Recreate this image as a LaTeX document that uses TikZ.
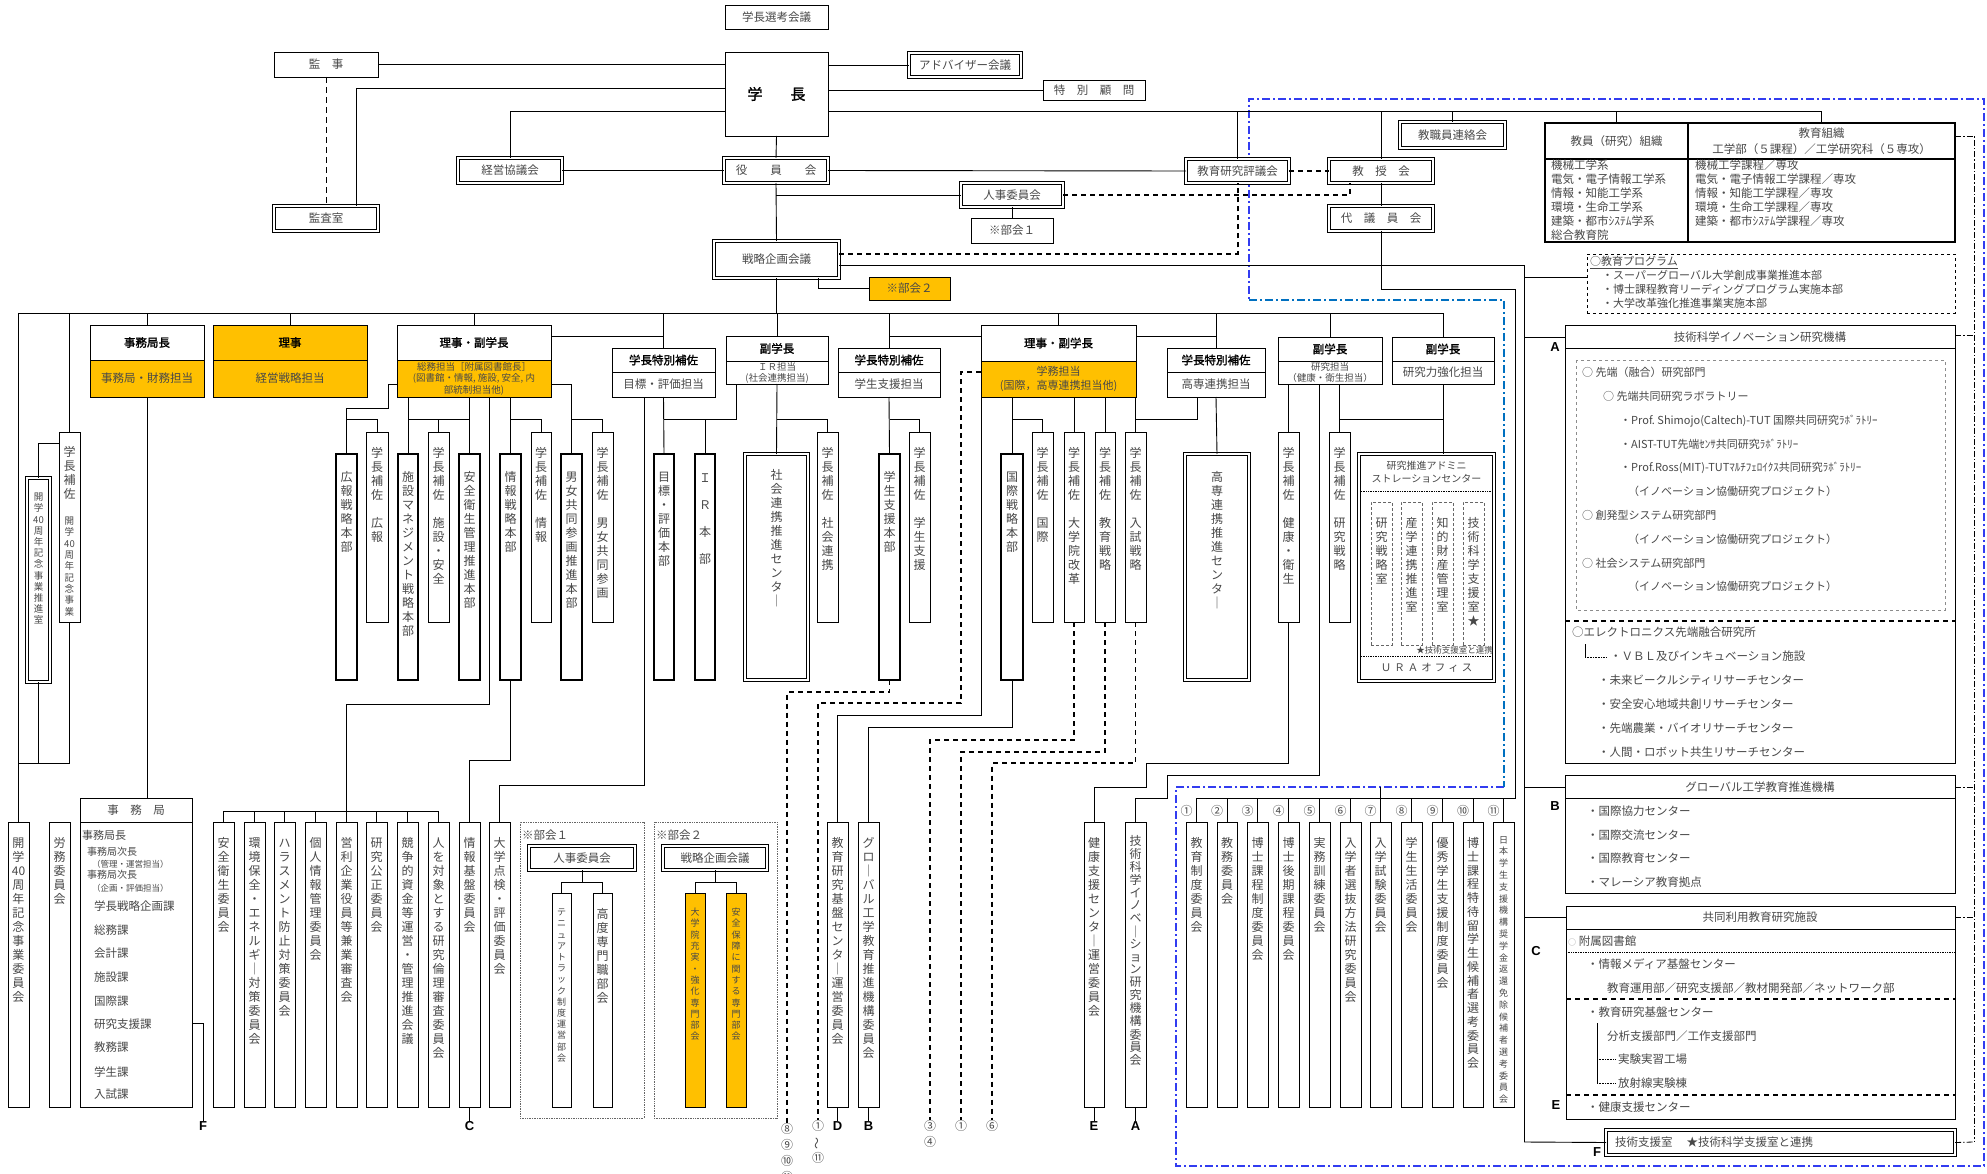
\documentclass[tikz,border=0pt]{standalone}
\usepackage{fontspec}
\setmainfont{Noto Sans CJK JP}
\newfontfamily\jpb{Noto Sans CJK JP}[FakeBold=1.6]
\newfontfamily\labf{Liberation Sans}
\usepackage{graphicx}
\definecolor{orng}{RGB}{255,192,0}
\definecolor{bluA}{RGB}{50,60,240}
\definecolor{bluB}{RGB}{0,112,192}
\definecolor{txt}{RGB}{72,72,72}
\pgfdeclarelayer{bg}
\pgfsetlayers{bg,main}
\makeatletter
\newdimen\vt@h \newdimen\vt@d
\newcommand\vtext[2][14]{\vt@h=\dimexpr#1pt*3/4\relax\vt@d=\dimexpr#1pt/4\relax\vbox{\offinterlineskip\vt@A#2\vt@End}}
\def\vt@End{\vt@End}
\def\vt@A#1{\ifx\vt@End#1\else\hbox to 20pt{\hss\vrule height\vt@h depth\vt@d width0pt\relax#1\hss}\expandafter\vt@A\fi}
\makeatother
\newcommand\vf{\fontsize{12}{14}\selectfont}
\newcommand\vs{\fontsize{9.5}{11}\selectfont}
\newcommand\vxs{\fontsize{9}{11}\selectfont}
\newcommand\hf{\jpb\fontsize{11.5}{13}\selectfont\color{black}}
\newcommand\bx[7][bx]{\pgfmathsetmacro\bw{#5-#3}\pgfmathsetmacro\bh{#6-#4}%
  \node[#1,minimum width=\bw pt,minimum height=\bh pt] (#2) at ({(#3+#5)/2},{(#4+#6)/2}) {#7};}
\newcommand\vbx[8][bx]{\bx[#1]{#2}{#3}{#4}{#5}{#6}{}%
  \node[anchor=north,inner sep=0pt,text=txt] (#2t) at ([yshift=-#7pt]#2.north) {#8};}
\begin{document}
\begin{tikzpicture}[x=1pt,y=-1pt,font=\fontsize{11.5}{14}\selectfont,
 bx/.style={draw,fill=white,line width=0.9pt,inner sep=0pt,outer sep=0pt,text=txt},
 dbx/.style={bx,double,double distance=1.8pt,line width=0.8pt},
 tbx/.style={bx,line width=2.5pt},
 ln/.style={line width=0.9pt},
 tdash/.style={line width=0.9pt,dash pattern=on 6pt off 4pt},
 kdash/.style={line width=2pt,dash pattern=on 5pt off 4pt},
 vdsh/.style={line width=1.8pt,dash pattern=on 5pt off 4pt},
 ddot/.style={line width=0.8pt,dash pattern=on 6pt off 2pt on 1.5pt off 2pt},
 blu/.style={line width=2.2pt,dash pattern=on 8pt off 3pt on 2pt off 3pt},
 grp/.style={draw=black!60,fill=white,densely dotted,line width=0.7pt,inner sep=0pt},
 lab/.style={font=\labf\bfseries\fontsize{13}{13}\selectfont,inner sep=0pt,anchor=north},
 cn/.style={font=\fontsize{12}{16}\selectfont,inner sep=0pt,align=center,anchor=north,text=txt},
 tx/.style={inner sep=0pt,text=txt}]
\useasboundingbox (0,0) rectangle (1987,1174);
\begin{pgfonlayer}{bg}
\fill[white] (0,0) rectangle (1987,1174);
\draw[blu,bluA] (1504,787) -- (1176,787) -- (1176,1166) -- (1984,1166) -- (1984,99) -- (1249,99) -- (1249,300);
\draw[blu,bluB] (1249,300) -- (1504,300) -- (1504,787);
\end{pgfonlayer}
\foreach \yy in {88,111,136,254,265,277,313,335,336,337,372,384,419,443,692,704,715,727,740,752,760,763,775,785,787,798,811,882,917,1023,1142}
  \coordinate (h\yy) at (0,\yy);
\coordinate (trunkT) at (1524,265);
\coordinate (trunkB) at (1524,1142);
\coordinate (busL) at (18.5,313);

% ---------- top ----------
\bx{senko}{725}{5}{828}{29}{学長選考会議}
\bx{kanji}{274}{52}{378}{77}{監　事}
\bx{gakucho}{725}{52}{828}{136}{\jpb\fontsize{15}{17}\selectfont\color{black}学\hspace{28pt}長}
\bx[dbx]{adv}{909}{53}{1021}{77}{アドバイザー会議}
\bx{tokub}{1043}{80}{1145}{100}{特　別　顧　問}
\bx[dbx]{kansa}{274}{206}{378}{231}{監査室}
\bx[dbx]{keiei}{458}{158}{562}{183}{経営協議会}
\bx[dbx]{yakuin}{724}{158}{828}{183}{役　　員　　会}
\bx[dbx]{jinji}{961}{183}{1063}{207}{人事委員会}
\bx{bukai1}{971}{218}{1053}{243}{※部会１}
\bx[dbx]{senryaku}{714}{241}{839}{278}{戦略企画会議}
\bx[bx,fill=orng]{bukai2}{869}{277}{950}{300}{※部会２}
\bx[dbx]{kyoshoku}{1400}{122}{1505}{148}{教職員連絡会}
\bx[dbx]{hyogi}{1186}{159}{1289}{183}{教育研究評議会}
\bx[dbx]{kyoju}{1329}{159}{1433}{183}{教　授　会}
\bx[dbx]{daigi}{1329}{206}{1433}{231}{代　議　員　会}

% table
\bx[bx,line width=2pt]{tbl}{1545}{123}{1955}{242}{}
\draw[line width=2pt] (1688,123) -- (1688,242);
\draw[line width=2pt] (1545,159) -- (1955,159);
\node[tx] (th1) at (1616.5,141) {教員（研究）組織};
\node[tx] (th2) at (1821.5,133) {教育組織};
\node[tx] (th3) at (1821.5,149) {工学部（５課程）／工学研究科（５専攻）};
\node[tx,anchor=north west,align=left] (tl) at (1551,160) {機械工学系\\電気・電子情報工学系\\情報・知能工学系\\環境・生命工学系\\建築・都市ｼｽﾃﾑ学系\\総合教育院};
\node[tx,anchor=north west,align=left] (tr) at (1695,160) {機械工学課程／専攻\\電気・電子情報工学課程／専攻\\情報・知能工学課程／専攻\\環境・生命工学課程／専攻\\建築・都市ｼｽﾃﾑ学課程／専攻};

% education program
\bx[bx,dashed,line width=0.7pt]{kprog}{1587}{254}{1955}{313}{}
\node[tx,anchor=north west,align=left,font=\fontsize{11}{14}\selectfont] (kpt) at (1590,256) {\underline{○教育プログラム}\\\hspace*{12pt}・スーパーグローバル大学創成事業推進本部\\\hspace*{12pt}・博士課程教育リーディングプログラム実施本部\\\hspace*{12pt}・大学改革強化推進事業実施本部};

% top connectors
\draw[ln] (kanji.east) -- (kanji.east -| gakucho.west);
\draw[ln] (gakucho.east |- adv.west) -- (adv.west);
\draw[ln] (gakucho.east |- tokub.west) -- (tokub.west);
\draw[tdash] (kanji.south) -- (kanji.south |- kansa.north);
\draw[ln] (gakucho.west |- h88) -| ([xshift=-22pt]kansa.north east);
\draw[ln] (gakucho.west |- h111) -| (keiei.north);
\draw[ln] (gakucho.south) -- (yakuin.north);
\draw[ln] (keiei.east) -- (yakuin.west);
\draw[ln] (yakuin.east) -- (hyogi.west);
\draw[ln] (yakuin.south) -- (senryaku.north);
\draw[ln] (yakuin.south |- jinji.west) -- (jinji.west);
\draw[ln] (jinji.south) -- (bukai1.north);
\draw[ln] (gakucho.east |- h111) -- (1821,111) -- ([xshift=-134pt]tbl.north east);
\draw[ln] ([xshift=71pt]tbl.north west) -- ++(0,-12);
\draw[ln] (hyogi.north) -- (hyogi.north |- h111);
\draw[ln] (kyoju.north) -- (kyoju.north |- h111);
\draw[ln] (kyoshoku.north) -- (kyoshoku.north |- h111);
\draw[kdash] (hyogi.east) -- (kyoju.west);
\draw[ln] (kyoju.south) -- (daigi.north);
\draw[kdash] (jinji.east) -| ([xshift=-31pt]kyoju.south);
\draw[kdash] (senryaku.east |- h254) -| (hyogi.south);
\draw[ln] (senryaku.east |- h265) -- (trunkT) -- (trunkB);
\draw[ln] (trunkT |- h277) -- (kprog.west |- h277);
\draw[ln] ([xshift=41.5pt]senryaku.south) |- (bukai2.west);
\draw[ln] (senryaku.south) -- (senryaku.south |- h313);
\draw[ddot] (tbl.east |- h136) -- (1974,136) -- (1974,1142);

% ---------- second level ----------
\bx{jkcho}{90}{325}{204}{360}{\hf 事務局長}
\bx[bx,fill=orng]{jkchoB}{90}{360}{204}{397}{事務局・財務担当}
\bx[bx,fill=orng]{riji}{213}{325}{367}{360}{\hf 理事}
\bx[bx,fill=orng]{rijiB}{213}{360}{367}{397}{経営戦略担当}
\bx{rf1}{397}{325}{551}{360}{\hf 理事・副学長}
\bx[bx,fill=orng,align=center,font=\fontsize{9.5}{11.5}\selectfont]{rf1B}{397}{360}{551}{397}{総務担当［附属図書館長］\\(図書館・情報, 施設, 安全, 内\\部統制担当他)}
\bx{ts1}{612}{348}{715}{372}{\hf 学長特別補佐}
\bx{ts1B}{612}{372}{715}{397}{目標・評価担当}
\bx{fir}{726}{336}{828}{361}{\hf 副学長}
\bx[bx,align=center,font=\fontsize{9.5}{11}\selectfont]{firB}{726}{361}{828}{384}{ＩＲ担当\\(社会連携担当)}
\bx{ts2}{838}{348}{940}{372}{\hf 学長特別補佐}
\bx{ts2B}{838}{372}{940}{397}{学生支援担当}
\bx{rf2}{981}{325}{1136}{361}{\hf 理事・副学長}
\bx[bx,fill=orng,align=center,font=\fontsize{11}{14}\selectfont]{rf2B}{981}{361}{1136}{397}{学務担当\\(国際，高専連携担当他)}
\bx{ts3}{1167}{348}{1265}{372}{\hf 学長特別補佐}
\bx{ts3B}{1167}{372}{1265}{397}{高専連携担当}
\bx{fk}{1278}{337}{1382}{361}{\hf 副学長}
\bx[bx,align=center,font=\fontsize{9.5}{11}\selectfont]{fkB}{1278}{361}{1382}{384}{研究担当\\（健康・衛生担当）}
\bx{fk2}{1392}{337}{1494}{361}{\hf 副学長}
\bx{fk2B}{1392}{361}{1494}{384}{研究力強化担当}

\draw[ln] (busL) -- (fk2.north |- h313);
\foreach \n in {jkcho,riji,rf1,ts1,fir,ts2,rf2,ts3,fk,fk2} \draw[ln] (\n.north) -- (\n.north |- h313);
\draw[ln] (rf1.east |- h336) -- (ts1.north |- h336);
\draw[ln] (ts2.north |- h336) -- (rf2.west |- h336);
\draw[ln] (rf2.east |- h336) -- (ts3.north |- h336);

% ---------- left 40th ----------
\vbx{s40}{59}{432}{80}{622}{14}{\vbox{\hbox{\vf\vtext{学長補佐}}\vskip13pt\hbox{\vs\vtext[11.3]{開学{40}周年記念事業}}}}
\vbx[dbx]{suishin}{27}{478}{50}{682}{14}{\vs\vtext[11.2]{開学{40}周年記念事業推進室}}

% ---------- third level ----------
\vbx[tbx]{kohoH}{336}{454}{357}{680}{17}{\vf\vtext{広報戦略本部}}
\vbx{kohoS}{366}{432}{388}{622}{15}{\vf\vtext{学長補佐~広報}}
\vbx[tbx]{shisetsuH}{398}{454}{418}{680}{17}{\vf\vtext{施設マネジメント戦略本部}}
\vbx{shisetsuS}{428}{432}{449}{622}{15}{\vf\vtext{学長補佐~施設・安全}}
\vbx[tbx]{anzenH}{459}{454}{480}{680}{17}{\vf\vtext{安全衛生管理推進本部}}
\vbx[tbx]{johoH}{500}{454}{521}{680}{17}{\vf\vtext{情報戦略本部}}
\vbx{johoS}{531}{432}{551}{622}{15}{\vf\vtext{学長補佐~情報}}
\vbx[tbx]{danjoH}{561}{454}{582}{680}{17}{\vf\vtext{男女共同参画推進本部}}
\vbx{danjoS}{592}{432}{613}{622}{15}{\vf\vtext{学長補佐~男女共同参画}}
\vbx[tbx]{mokuhyoH}{654}{454}{674}{680}{17}{\vf\vtext{目標・評価本部}}
\vbx[tbx]{irH}{695}{454}{715}{680}{8}{\vf\vtext[27]{ＩＲ本部}}
\vbx[dbx]{shakaiC}{745}{454}{808}{680}{15}{\vf\vtext{社会連携推進センタ｜}}
\vbx{shakaiS}{817}{432}{838}{622}{15}{\vf\vtext{学長補佐~社会連携}}
\vbx[tbx]{gakuseiH}{879}{454}{900}{680}{17}{\vf\vtext{学生支援本部}}
\vbx{gakuseiS}{909}{432}{930}{622}{15}{\vf\vtext{学長補佐~学生支援}}
\vbx[tbx]{kokusaiH}{1001}{454}{1023}{680}{17}{\vf\vtext{国際戦略本部}}
\vbx{kokusaiS}{1032}{432}{1053}{622}{15}{\vf\vtext{学長補佐~国際}}
\vbx{daigakuinS}{1064}{432}{1084}{622}{15}{\vf\vtext{学長補佐~大学院改革}}
\vbx{kyoikuS}{1095}{432}{1115}{622}{15}{\vf\vtext{学長補佐~教育戦略}}
\vbx{nyushiS}{1125}{432}{1146}{622}{15}{\vf\vtext{学長補佐~入試戦略}}
\vbx[dbx]{kosenC}{1185}{454}{1249}{680}{17}{\vf\vtext{高専連携推進センタ｜}}
\vbx{kenkoS}{1278}{432}{1299}{622}{15}{\vf\vtext{学長補佐~健康・衛生}}
\vbx{kenkyuS}{1329}{432}{1350}{622}{15}{\vf\vtext{学長補佐~研究戦略}}
\bx[dbx]{uraC}{1359}{454}{1494}{681}{}
\node[tx,align=center,font=\fontsize{10}{13}\selectfont] (urat) at (1426.5,472) {研究推進アドミニ\\ストレーションセンター};
\draw[densely dotted,line width=0.7pt] (1361,491) -- (1492,491);
\draw[densely dotted,line width=0.7pt] (1361,656) -- (1492,656);
\vbx[bx,densely dashed,draw=black!60,line width=0.7pt]{ura1}{1371}{502}{1392}{645}{15}{\vf\vtext{研究戦略室}}
\vbx[bx,densely dashed,draw=black!60,line width=0.7pt]{ura2}{1401}{502}{1422}{645}{15}{\vf\vtext{産学連携推進室}}
\vbx[bx,densely dashed,draw=black!60,line width=0.7pt]{ura3}{1432}{502}{1453}{645}{15}{\vf\vtext{知的財産管理室}}
\vbx[bx,densely dashed,draw=black!60,line width=0.7pt]{ura4}{1463}{502}{1484}{645}{15}{\vf\vtext{技術科学支援室★}}
\node[tx,anchor=east,font=\fontsize{8.5}{10}\selectfont] (urast) at (1493,650.5) {★技術支援室と連携};
\node[tx,font=\fontsize{10.5}{12}\selectfont] (uraof) at (1426.5,668) {Ｕ\hspace{3pt}Ｒ\hspace{3pt}Ａ\hspace{3pt}オ\hspace{3pt}フ\hspace{3pt}ィ\hspace{3pt}ス};

% third-level connectors
\draw[ln] (s40.north |- h313) -- (s40.north);
\draw[ln] (s40.west |- h443) -| (suishin.north);
\draw[ln] (suishin.south) -- (suishin.south |- h763);
\draw[ln] (s40.south) -- (s40.south |- h763);
\draw[ln] (busL |- h763) -- (s40.south |- h763);
\draw[ln] (rf1B.west |- h384) -| (388,408) -| (kohoH.north);
\draw[ln] (kohoH.north |- h419) -| (kohoS.north);
\draw[ln] (shisetsuH.north |- rf1B.south) -- (shisetsuH.north);
\draw[ln] (shisetsuH.north |- h419) -| (shisetsuS.north);
\draw[ln] (shisetsuS.north |- h419) -- (anzenH.north |- h419);
\draw[ln] (anzenH.north |- rf1B.south) -- (anzenH.north);
\draw[ln] (johoH.north |- rf1B.south) -- (johoH.north);
\draw[ln] (johoH.north |- h419) -| (johoS.north);
\draw[ln] (rf1B.east |- h384) -| (danjoH.north);
\draw[ln] (danjoH.north |- h419) -| (danjoS.north);
\draw[ln] (ts1B.south) -- (mokuhyoH.north);
\draw[ln] (mokuhyoH.north |- h419) -| ([xshift=10pt]firB.south west);
\draw[ln] (irH.north |- h419) -- (irH.north);
\draw[ln] (firB.south) -- (shakaiC.north);
\draw[ln] (shakaiC.north |- h419) -| (shakaiS.north);
\draw[ln] (ts2B.south) -- (gakuseiH.north);
\draw[ln] (gakuseiH.north |- h419) -| (gakuseiS.north);
\draw[ln] (kokusaiH.north |- rf2B.south) -- (kokusaiH.north);
\draw[ln] (kokusaiH.north |- h419) -| (kokusaiS.north);
\draw[ln] (daigakuinS.north |- rf2B.south) -- (daigakuinS.north);
\draw[ln] (kyoikuS.north |- rf2B.south) -- (kyoikuS.north);
\draw[ln] (nyushiS.north |- rf2B.south) -- (nyushiS.north);
\draw[ln] (nyushiS.north |- h419) -| ([xshift=-19pt]ts3B.south);
\draw[ln] (ts3B.south) -- (kosenC.north);
\draw[ln] (kenkoS.north |- fkB.south) -- (kenkoS.north);
\draw[ln] (kenkyuS.north |- fkB.south) -- (kenkyuS.north);
\draw[ln] (kenkyuS.north |- h419) -- (fk2B.south |- h419);
\draw[ln] (fk2B.south) -- (fk2B.south |- uraC.north);

% ---------- bottom committees ----------
\vbx{kaigakuC}{8}{822}{29}{1107}{15}{\vf\vtext{開学{40}周年記念事業委員会}}
\vbx{romu}{49}{822}{70}{1107}{15}{\vf\vtext{労務委員会}}
\bx{jimu}{80}{798}{192}{822}{事　務　局}
\bx{jimuB}{80}{822}{192}{1107}{}
\node[tx,anchor=west,font=\fontsize{11}{13}\selectfont] (jm1) at (82,835) {事務局長};
\node[tx,anchor=west,font=\fontsize{10}{12}\selectfont] (jm2) at (87,852) {事務局次長};
\node[tx,anchor=west,font=\fontsize{8.5}{10}\selectfont] (jm3) at (92,864) {（管理・運営担当）};
\node[tx,anchor=west,font=\fontsize{10}{12}\selectfont] (jm4) at (87,875) {事務局次長};
\node[tx,anchor=west,font=\fontsize{8.5}{10}\selectfont] (jm5) at (92,888) {（企画・評価担当）};
\foreach \tx/\yy [count=\i] in {学長戦略企画課/906,総務課/930,会計課/953,施設課/977,国際課/1001,研究支援課/1024,教務課/1047,学生課/1072,入試課/1094}
  \node[tx,anchor=west] (jk\i) at (94,\yy) {\tx};
\vbx{c1}{213}{822}{234}{1107}{15}{\vf\vtext{安全衛生委員会}}
\vbx{c2}{244}{822}{265}{1107}{15}{\vf\vtext{環境保全・エネルギ｜対策委員会}}
\vbx{c3}{274}{822}{295}{1107}{15}{\vf\vtext{ハラスメント防止対策委員会}}
\vbx{c4}{305}{822}{326}{1107}{15}{\vf\vtext{個人情報管理委員会}}
\vbx{c5}{336}{822}{357}{1107}{15}{\vf\vtext{営利企業役員等兼業審査会}}
\vbx{c6}{366}{822}{387}{1107}{15}{\vf\vtext{研究公正委員会}}
\vbx{c7}{397}{822}{418}{1107}{15}{\vf\vtext{競争的資金等運営・管理推進会議}}
\vbx{c8}{428}{822}{449}{1107}{15}{\vf\vtext{人を対象とする研究倫理審査委員会}}
\vbx{johoKiban}{459}{822}{480}{1107}{15}{\vf\vtext{情報基盤委員会}}
\vbx{tenken}{489}{822}{510}{1107}{15}{\vf\vtext{大学点検・評価委員会}}

\bx[grp]{g1}{520}{822}{644}{1118}{}
\node[tx,anchor=west] (g1l) at (522,835) {※部会１};
\bx[dbx]{jinji2}{529}{846}{635}{870}{人事委員会}
\vbx{tenure}{552}{893}{571}{1107}{14}{\vxs\vtext[11.2]{テニュアトラック制度運営部会}}
\vbx{kodo}{593}{893}{612}{1107}{15}{\vf\vtext{高度専門職部会}}
\bx[grp]{g2}{654}{822}{777}{1118}{}
\node[tx,anchor=west] (g2l) at (656,835) {※部会２};
\bx[dbx]{senryaku2}{663}{846}{767}{870}{戦略企画会議}
\vbx[bx,fill=orng]{daigakuinJ}{685}{893}{705}{1107}{14}{\vxs\vtext[11.3]{大学院充実・強化専門部会}}
\vbx[bx,fill=orng]{anpo}{726}{893}{746}{1107}{14}{\vxs\vtext[11.3]{安全保障に関する専門部会}}

\vbx{Dbox}{827}{822}{848}{1107}{15}{\vf\vtext{教育研究基盤センタ｜運営委員会}}
\vbx{Bbox}{858}{822}{879}{1107}{15}{\vf\vtext{グロ｜バル工学教育推進機構委員会}}
\vbx{Ebox}{1084}{822}{1104}{1107}{15}{\vf\vtext{健康支援センタ｜運営委員会}}
\vbx{Abc}{1125}{822}{1146}{1107}{13}{\vf\vtext[12.5]{技術科学イノベ｜ション研究機構委員会}}

\vbx{k1}{1186}{822}{1207}{1107}{15}{\vf\vtext{教育制度委員会}}
\vbx{k2}{1217}{822}{1237}{1107}{15}{\vf\vtext{教務委員会}}
\vbx{k3}{1247}{822}{1268}{1107}{15}{\vf\vtext{博士課程制度委員会}}
\vbx{k4}{1278}{822}{1299}{1107}{15}{\vf\vtext{博士後期課程委員会}}
\vbx{k5}{1309}{822}{1330}{1107}{15}{\vf\vtext{実務訓練委員会}}
\vbx{k6}{1340}{822}{1361}{1107}{15}{\vf\vtext{入学者選抜方法研究委員会}}
\vbx{k7}{1370}{822}{1391}{1107}{15}{\vf\vtext{入学試験委員会}}
\vbx{k8}{1401}{822}{1422}{1107}{15}{\vf\vtext{学生生活委員会}}
\vbx{k9}{1432}{822}{1453}{1107}{15}{\vf\vtext{優秀学生支援制度委員会}}
\vbx{k10}{1463}{822}{1483}{1107}{15}{\vf\vtext[13.75]{博士課程特待留学生候補者選考委員会}}
\vbx{k11}{1493}{822}{1514}{1107}{12}{\vxs\vtext[11.8]{日本学生支援機構奨学金返還免除候補者選考委員会}}
\foreach \i/\s in {1/①,2/②,3/③,4/④,5/⑤,6/⑥,7/⑦,8/⑧,9/⑨,10/⑩,11/⑪}
  \path (k\i.north) ++(-10,-11) node[tx,font=\fontsize{12}{12}\selectfont] (kl\i) {\s};

% bottom labels
\node[lab] (lF1) at (203,1121) {F};
\node[lab] (lC1) at (469.5,1121) {C};
\node[lab] (lD) at (837.5,1121) {D};
\node[lab] (lB) at (868.5,1121) {B};
\node[lab] (lE) at (1094,1121) {E};
\node[lab] (lA) at (1135.5,1121) {A};
\node[cn] (l8) at (787,1123) {⑧\\⑨\\⑩\\⑪};
\node[cn] (l1) at (818,1120) {①\\\rotatebox[origin=c]{90}{～}\\⑪};
\node[cn] (l34) at (930,1120) {③\\④};
\node[cn] (l1b) at (961,1120) {①};
\node[cn] (l6) at (992,1120) {⑥};

% bottom connectors
\draw[ln] (busL) -- (kaigakuC.north);
\draw[ln] (jkchoB.south) -- (jkchoB.south |- jimu.north);
\draw[ln] (jimuB.east |- h1023) -| (lF1.north);
\draw[ln] ([xshift=15pt]rf1B.south) |- (c5.north |- h704) -- (c5.north);
\draw[ln] (c1.north |- h811) -- (c8.north |- h811);
\foreach \c in {c1,c2,c3,c4,c6,c7,c8} \draw[ln] (\c.north |- h811) -- (\c.north);
\draw[ln] (johoH.south) |- (johoKiban.north |- h760) -- (johoKiban.north);
\draw[ln] (johoKiban.south) -- (lC1.north);
\draw[ln] ([xshift=-19pt]ts1B.south) |- (tenken.north |- h785) -- (tenken.north);
\draw[ln] (jinji2.south) -- (jinji2.south |- h882);
\draw[ln] (tenure.north) |- (kodo.north |- h882) -- (kodo.north);
\draw[ln] (senryaku2.south) -- (senryaku2.south |- h882);
\draw[ln] (daigakuinJ.north) |- (anpo.north |- h882) -- (anpo.north);
\draw[vdsh] (gakuseiH.south) |- (l8.north |- h692) -- (l8.north);
\draw[vdsh] (rf2B.west |- h372) -| (961,703) -| (l1.north);
\draw[ln] (rf2B.south west) |- (Dbox.north |- h715) -- (Dbox.north);
\draw[ln] (Dbox.south) -- (lD.north);
\draw[ln] (kokusaiH.south) |- (Bbox.north |- h727) -- (Bbox.north);
\draw[ln] (Bbox.south) -- (lB.north);
\draw[vdsh] (daigakuinS.south) |- (l34.north |- h740) -- (l34.north);
\draw[vdsh] (kyoikuS.south) |- (l1b.north |- h752) -- (l1b.north);
\draw[vdsh] (nyushiS.south) |- (l6.north |- h763) -- (l6.north);
\draw[ln] (kenkoS.south) |- (1146,763) |- (Ebox.north |- h787) -- (Ebox.north);
\draw[ln] (Ebox.south) -- (lE.north);
\draw[ln] ([xshift=-11pt]fkB.south) |- (1167,775) |- (Abc.north |- h798) -- (Abc.north);
\draw[ln] (Abc.south) -- (lA.north);
\draw[ln] (daigi.south) |- (1515,289) -- (1515,798) -- (k1.north |- h798);
\foreach \i in {1,...,11} \draw[ln] (k\i.north |- h798) -- (k\i.north);
\draw[ln] (k7.north |- h787) -- (k7.north |- h798);

% ---------- right column ----------
\bx{Abig}{1565}{325}{1955}{763}{}
\draw[ln] (1565,348) -- (1955,348);
\node[tx] (Atitle) at (1760,337) {技術科学イノベーション研究機構};
\draw[black!45,dashed,line width=0.6pt] (1576,360) rectangle (1945,610);
\node[tx,anchor=north west,align=left,font=\fontsize{11}{23.8}\selectfont] (Alist) at (1582,367) {○ 先端（融合）研究部門\\
\hspace*{21pt}○ 先端共同研究ラボラトリー\\
\hspace*{38pt}・Prof.\ Shimojo(Caltech)-TUT 国際共同研究ﾗﾎﾞﾗﾄﾘｰ\\
\hspace*{38pt}・AIST-TUT先端ｾﾝｻ共同研究ﾗﾎﾞﾗﾄﾘｰ\\
\hspace*{38pt}・Prof.Ross(MIT)-TUTﾏﾙﾁﾌｪﾛｲｸｽ共同研究ﾗﾎﾞﾗﾄﾘｰ\\
\hspace*{46pt}（イノベーション協働研究プロジェクト）\\
○ 創発型システム研究部門\\
\hspace*{46pt}（イノベーション協働研究プロジェクト）\\
○ 社会システム研究部門\\
\hspace*{46pt}（イノベーション協働研究プロジェクト）};
\draw[kdash] (1565,621) -- (1955,621);
\node[tx,anchor=north west,align=left,font=\fontsize{11.5}{24}\selectfont] (Alist2) at (1572,627) {○エレクトロニクス先端融合研究所\\
\hspace*{38pt}・ＶＢＬ及びインキュベーション施設\\
\hspace*{26pt}・未来ビークルシティリサーチセンター\\
\hspace*{26pt}・安全安心地域共創リサーチセンター\\
\hspace*{26pt}・先端農業・バイオリサーチセンター\\
\hspace*{26pt}・人間・ロボット共生リサーチセンター};
\draw[line width=0.6pt] (1585,644) -- (1585,657);
\draw[line width=0.6pt,densely dotted] (1585,657) -- (1607,657);

\bx{Bbig}{1565}{775}{1955}{893}{}
\draw[ln] (1565,798) -- (1955,798);
\node[tx] (Btitle) at (1760,787) {グローバル工学教育推進機構};
\node[tx,anchor=north west,align=left,font=\fontsize{11.5}{23.5}\selectfont] (Blist) at (1587,806) {・国際協力センター\\・国際交流センター\\・国際教育センター\\・マレーシア教育拠点};

\bx{Cbig}{1566}{906}{1955}{1119}{}
\draw[ln] (1566,929) -- (1955,929);
\node[tx] (Ctitle) at (1760,917) {共同利用教育研究施設};
\node[tx,anchor=west] (cl1) at (1568,941) {{\color{black!40}\fontsize{8}{8}\selectfont ○} 附属図書館};
\draw[densely dotted,line width=0.7pt] (1566,952) -- (1955,952);
\node[tx,anchor=west] (cl2) at (1587,964) {・情報メディア基盤センター};
\node[tx,anchor=west] (cl3) at (1607,988) {教育運用部／研究支援部／教材開発部／ネットワーク部};
\draw[kdash] (1566,999) -- (1955,999);
\node[tx,anchor=west] (cl4) at (1587,1012) {・教育研究基盤センター};
\node[tx,anchor=west] (cl5) at (1607,1036) {分析支援部門／工作支援部門};
\node[tx,anchor=west] (cl6) at (1618,1059) {実験実習工場};
\node[tx,anchor=west] (cl7) at (1618,1083) {放射線実験棟};
\draw[line width=0.6pt] (1597,1023) -- (1597,1083);
\draw[line width=0.6pt,densely dotted] (1597,1059) -- (1616,1059);
\draw[line width=0.6pt,densely dotted] (1597,1083) -- (1616,1083);
\draw[kdash] (1566,1095) -- (1955,1095);
\node[tx,anchor=west] (cl8) at (1587,1107) {・健康支援センター};
\bx[dbx]{gijutsu}{1606}{1130}{1955}{1155}{}
\node[tx,anchor=west] (gjt) at ([xshift=9pt]gijutsu.west) {技術支援室\hspace{14pt}★技術科学支援室と連携};

\draw[ln] (trunkT |- h337) -- (Abig.west |- h337);
\draw[ln] (trunkT |- h787) -- (Bbig.west |- h787);
\draw[ln] (trunkT |- h917) -- (Cbig.west |- h917);
\draw[ln] (trunkB) -- (gijutsu.west);
\draw[ddot] (Abig.east |- h335) -- (1974,335);
\draw[ddot] (Bbig.east |- h787) -- (1974,787);
\draw[ddot] (Cbig.east |- h917) -- (1974,917);
\draw[ddot] (gijutsu.east) -- (1974,1142);

\node[lab] (lA2) at (1555,342) {A};
\node[lab] (lB2) at (1555,801) {B};
\node[lab] (lC2) at (1536,946) {C};
\node[lab] (lE2) at (1556,1100) {E};
\node[lab] (lF2) at (1597,1147) {F};
\end{tikzpicture}
\end{document}
